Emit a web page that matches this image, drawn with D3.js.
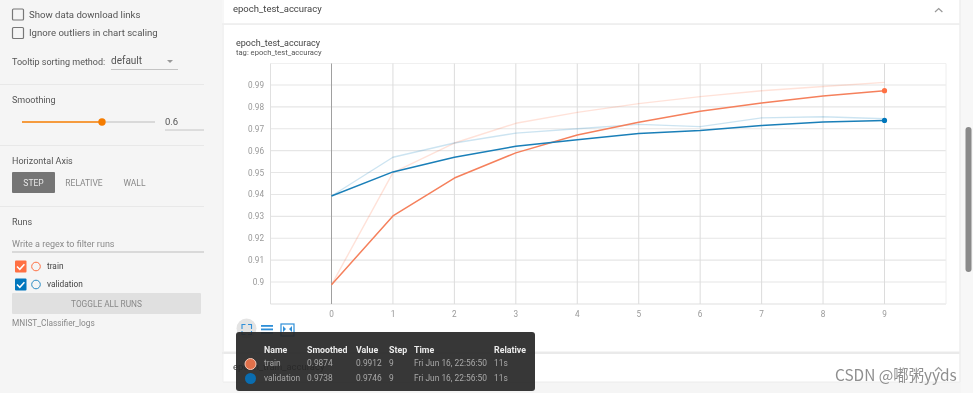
<!DOCTYPE html>
<html><head><meta charset="utf-8">
<script src="https://cdnjs.cloudflare.com/ajax/libs/d3/7.8.5/d3.min.js"></script>
<style>html,body{margin:0;padding:0;background:#f5f5f5;overflow:hidden}svg{display:block;filter:blur(0.45px)}text{font-family:Roboto,"Noto Sans",sans-serif}</style>
</head><body><svg id="c" width="973" height="393"></svg>
<script>
const steps=[0,1,2,3,4,5,6,7,8,9];
const trainSmoothed=[0.8987,0.9302,0.9475,0.959,0.9672,0.973,0.978,0.9818,0.985,0.9874];
const trainRaw=[0.8987,0.95,0.9635,0.9725,0.9775,0.9815,0.9847,0.9874,0.9893,0.9912];
const valSmoothed=[0.9393,0.9503,0.957,0.962,0.965,0.9678,0.9692,0.9715,0.9731,0.9738];
const valRaw=[0.9393,0.957,0.9635,0.968,0.97,0.972,0.971,0.975,0.9755,0.9746];
const yTicks=[0.9,0.91,0.92,0.93,0.94,0.95,0.96,0.97,0.98,0.99];
const tooltipHeaders=["Name","Smoothed","Value","Step","Time","Relative"];
const tooltipTrain=["train","0.9874","0.9912","9","Fri Jun 16, 22:56:50","11s"];
const tooltipVal=["validation","0.9738","0.9746","9","Fri Jun 16, 22:56:50","11s"];

const svg=d3.select("#c");
function T(x,y,s,size,fill,o={}){const t=svg.append("text").attr("x",x).attr("y",y).attr("font-size",size).attr("fill",fill).text(s);
 if(o.anchor)t.attr("text-anchor",o.anchor); if(o.weight)t.attr("font-weight",o.weight); if(o.family)t.style("font-family",o.family); return t;}
function R(x,y,w,h,fill,o={}){const r=svg.append("rect").attr("x",x).attr("y",y).attr("width",w).attr("height",h).attr("fill",fill);
 if(o.rx)r.attr("rx",o.rx); if(o.stroke)r.attr("stroke",o.stroke).attr("stroke-width",o.sw||1); if(o.op)r.attr("opacity",o.op); return r;}
function L(x1,y1,x2,y2,c,w=1){svg.append("line").attr("x1",x1).attr("y1",y1).attr("x2",x2).attr("y2",y2).attr("stroke",c).attr("stroke-width",w);}

// page
R(0,0,973,393,"#f5f5f5");
// cards
R(222,0,738,24,"#ffffff"); L(222,24,960,24,"#ececec",1.5);
R(224,25,736,326,"#ffffff"); L(222,353,960,353,"#e6e6e6",1.5);
R(223,354,737,28,"#ffffff"); L(223,382,960,382,"#ececec",1);
L(223,0,223,382,"#efefef",1); L(960,0,960,382,"#eeeeee",1.5);
// scrollbar
R(961,0,12,393,"#f7f7f7");
R(965.5,127,6,145,"#8a8a8a",{rx:3});
// sidebar
R(12.5,9,11,11,"none",{stroke:"#777",sw:1.2,rx:1});
T(29,18,"Show data download links",9.6,"#555");
R(12.5,27.5,11,11,"none",{stroke:"#777",sw:1.2,rx:1});
T(29,36,"Ignore outliers in chart scaling",9.6,"#555");
T(12,65,"Tooltip sorting method:",9,"#555");
T(111,64,"default",10,"#555");
svg.append("path").attr("d","M167 60h6l-3 3z").attr("fill","#999");
L(111,69.5,178,69.5,"#c4c4c4");
L(0,84.5,204,84.5,"#e8e8e8");
T(12,103,"Smoothing",9,"#555");
L(22,122,102,122,"#f57c00",1.5); L(102,122,155,122,"#cfcfcf",1.5);
svg.append("circle").attr("cx",102).attr("cy",122).attr("r",3.7).attr("fill","#f57c00");
T(165,125,"0.6",9.5,"#555");
L(165,130,204,130,"#c4c4c4");
L(0,145.5,204,145.5,"#e8e8e8");
T(12,164,"Horizontal Axis",9,"#555");
R(12,172,43,21,"#757575",{rx:1});
T(33.5,186,"STEP",8.5,"#e8e8e8",{anchor:"middle"});
T(84,186,"RELATIVE",8.5,"#888",{anchor:"middle"});
T(134.5,186,"WALL",8.5,"#888",{anchor:"middle"});
L(0,206.5,204,206.5,"#e8e8e8");
T(12,225,"Runs",9,"#555");
T(12,247,"Write a regex to filter runs",9,"#8a8a8a");
L(12,252,204,252,"#bdbdbd",1.2);
function run(y,box,ring,name){
 R(15,y-5.5,11.5,12,box,{rx:1});
 svg.append("path").attr("d",`M17 ${y+0.5} l2.8 2.8 l4.6 -5`).attr("fill","none").attr("stroke","#fff").attr("stroke-width",1.5);
 svg.append("circle").attr("cx",36).attr("cy",y+0.5).attr("r",4.3).attr("fill","none").attr("stroke",ring).attr("stroke-width",1);
 T(47,y+2.5,name,8.3,"#444");
}
run(266,"#ff7043","#ff7043","train");
run(284,"#0277bd","#2b8cc4","validation");
R(12,293,189,21,"#e0e0e0",{rx:1});
T(106.5,307,"TOGGLE ALL RUNS",8.3,"#888",{anchor:"middle"});
T(12,326,"MNIST_Classifier_logs",8.3,"#888");

// headers
T(233,12,"epoch_test_accuracy",9.5,"#444");
svg.append("path").attr("d","M935 12 l3.7 -3.5 l3.7 3.5").attr("fill","none").attr("stroke","#999").attr("stroke-width",1.2);
T(236,46,"epoch_test_accuracy",9,"#444");
T(236,55,"tag: epoch_test_accuracy",7.6,"#555");
T(233,370,"epoch_train_accuracy",9.5,"#444");
svg.append("path").attr("d","M935 371 l3.5 -3.5 l3.5 3.5").attr("fill","none").attr("stroke","#999").attr("stroke-width",1.2);

// chart
const pLeft=270.5,pRight=946,pTop=63.5,pBottom=304;
const x=d3.scaleLinear().domain([0,9]).range([331.5,884.5]);
const y=d3.scaleLinear().domain([0.9,0.99]).range([282,85]);
const gy=svg.append("g");
gy.selectAll("line").data(yTicks).join("line").attr("x1",pLeft).attr("x2",pRight).attr("y1",d=>y(d)).attr("y2",d=>y(d)).attr("stroke","#e6e6e6").attr("stroke-width",1.1);
L(pLeft,pTop,pRight,pTop,"#f0f0f0",1);
L(pLeft,pBottom,pRight,pBottom,"#e0e0e0",1.2);
L(pLeft,pTop,pLeft,pBottom,"#e0e0e0",1);
L(pRight,pTop,pRight,pBottom,"#eeeeee",1);
const gx=svg.append("g");
gx.selectAll("line").data(steps).join("line").attr("x1",d=>x(d)).attr("x2",d=>x(d)).attr("y1",pTop).attr("y2",pBottom).attr("stroke",d=>d===0?"#a0a0a0":"#dcdcdc").attr("stroke-width",1);
svg.append("g").selectAll("text").data(yTicks).join("text").attr("x",264).attr("y",d=>y(d)+3).attr("text-anchor","end").attr("font-size",8.2).attr("fill","#999").text(d=>String(d));
svg.append("g").selectAll("text").data(steps).join("text").attr("x",d=>x(d)).attr("y",316.5).attr("text-anchor","middle").attr("font-size",8.2).attr("fill","#999").text(d=>d);

const line=d3.line().x((d,i)=>x(steps[i])).y(d=>y(d));
function path(data,c,w,op){svg.append("path").attr("d",line(data)).attr("fill","none").attr("stroke",c).attr("stroke-width",w).attr("opacity",op).attr("stroke-linejoin","round");}
path(trainRaw,"#ff7043",1.4,0.2);
path(valRaw,"#0077bb",1.4,0.2);
path(trainSmoothed,"#f5805c",1.5,1);
path(valSmoothed,"#1a7fb8",1.5,1);
svg.append("circle").attr("cx",x(9)).attr("cy",y(trainSmoothed[9])).attr("r",2.6).attr("fill","#ff7043");
svg.append("circle").attr("cx",x(9)).attr("cy",y(valSmoothed[9])).attr("r",2.6).attr("fill","#0077bb");

// chart buttons
svg.append("circle").attr("cx",246.5).attr("cy",328.5).attr("r",10).attr("fill","#e4e4e4");
svg.append("path").attr("d","M242 329v-4.5h3.5 M248 324.5h3.5v4.5 M251.5 331v3.5h-3.5 M245.5 334.5h-3.5v-3.5").attr("fill","none").attr("stroke","#2f8fd8").attr("stroke-width",1.1);
[325,328.5,332].forEach(v=>R(261,v,12,1.8,"#2f8fd8"));
R(281,324,13,12,"none",{stroke:"#2f8fd8",sw:1.2});
svg.append("path").attr("d","M283 326l3 3-3 3z M292 326l-3 3 3 3z").attr("fill","#2f8fd8");

// tooltip
R(236,332,299,59,"#282828",{rx:3,op:0.93});
const cols=[264,307,356,389,414,494];
tooltipHeaders.forEach((h,i)=>T(cols[i],353,h,8.8,"#ececec",{weight:700}));
tooltipTrain.forEach((v,i)=>T(cols[i],366,v,8.4,"#a8a8a8"));
tooltipVal.forEach((v,i)=>T(cols[i],381,v,8.4,"#a8a8a8"));
svg.append("circle").attr("cx",250.5).attr("cy",364).attr("r",5.5).attr("fill","#e0704a").attr("stroke","#f3c8b8").attr("stroke-width",1);
svg.append("circle").attr("cx",250.5).attr("cy",378.5).attr("r",5.5).attr("fill","#0a6db0");

// watermark
T(835,380.5,"CSDN @嘟粥yyds",15.4,"#8f8f8f").style("font-family",'"Noto Sans CJK SC","Liberation Sans",sans-serif');
</script></body></html>
